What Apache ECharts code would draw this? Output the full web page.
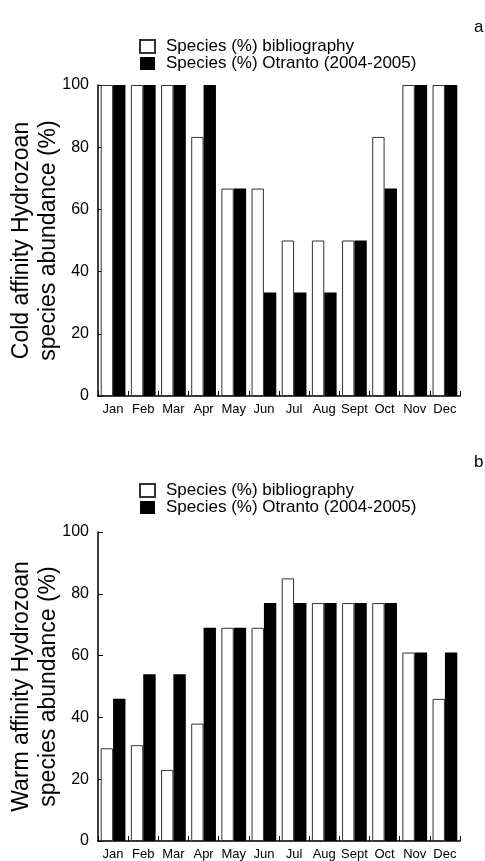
<!DOCTYPE html>
<html>
<head>
<meta charset="utf-8">
<script src="https://cdn.jsdelivr.net/npm/echarts@6/dist/echarts.min.js"></script>
<style>
html,body{margin:0;padding:0;background:#fff;}
#chart{width:485px;height:861px;}
</style>
</head>
<body>
<div id="chart"></div>
<script>
var months = ['Jan','Feb','Mar','Apr','May','Jun','Jul','Aug','Sept','Oct','Nov','Dec'];
var seriesNames = ['Species (%) bibliography', 'Species (%) Otranto (2004-2005)'];
var coldBiblio  = [100,100,100,83.3,66.7,66.7,50,50,50,83.3,100,100];
var coldOtranto = [100,100,100,100,66.7,33.3,33.3,33.3,50,66.7,100,100];
var warmBiblio  = [30,31,23,38,69,69,85,77,77,77,61,46];
var warmOtranto = [46,54,54,69,69,77,77,77,77,77,61,61];
var yTitles = ['Cold affinity Hydrozoan\nspecies abundance (%)', 'Warm affinity Hydrozoan\nspecies abundance (%)'];
var panelLabels = ['a', 'b'];

var FONT = '"Liberation Sans", Arial, sans-serif';
var chart = echarts.init(document.getElementById('chart'), null, {renderer: 'canvas'});

function xAxis(i) {
  return {
    type: 'category', gridIndex: i, data: months,
    axisLine: {show: true, lineStyle: {color: '#000', width: 1.5}},
    axisTick: {show: true, inside: true, length: 5, lineStyle: {color: '#000', width: 1}},
    axisLabel: {color: '#000', fontSize: 13, fontFamily: FONT, margin: 7, interval: 0},
    splitLine: {show: false}
  };
}
function yAxis(i) {
  return {
    type: 'value', gridIndex: i, min: 0, max: 100, interval: 20,
    name: yTitles[i], nameLocation: 'middle', nameRotate: 90, nameGap: 36,
    nameMoveOverlap: false,
    nameTextStyle: {color: '#000', fontSize: 23, fontFamily: FONT, lineHeight: 27},
    axisLine: {show: true, lineStyle: {color: '#000', width: 1.5}},
    axisTick: {show: true, inside: true, length: 5, lineStyle: {color: '#000', width: 1}},
    axisLabel: {color: '#000', fontSize: 16, fontFamily: FONT, margin: 9},
    splitLine: {show: false}
  };
}
function bar(name, data, i, white) {
  return {
    name: name, type: 'bar', xAxisIndex: i, yAxisIndex: i, data: data,
    barWidth: '41%', barGap: '0%',
    itemStyle: white ? {color: '#fff', borderColor: '#333', borderWidth: 1} : {color: '#000'},
    emphasis: {disabled: true}
  };
}
function legend(top) {
  return {
    orient: 'vertical', left: 134, top: top, data: seriesNames,
    icon: 'rect', itemWidth: 15, itemHeight: 13, itemGap: 0,
    textStyle: {color: '#000', fontSize: 17, fontFamily: FONT, lineHeight: 17, padding: [0,0,0,6]},
    selectedMode: false
  };
}

chart.setOption({
  backgroundColor: '#fff',
  animation: false,
  title: [
    {text: panelLabels[0], left: 474, top: 19, textStyle: {color: '#000', fontSize: 17, fontWeight: 'normal', fontFamily: FONT}, padding: 0},
    {text: panelLabels[1], left: 474, top: 454, textStyle: {color: '#000', fontSize: 17, fontWeight: 'normal', fontFamily: FONT}, padding: 0}
  ],
  legend: [legend(33), legend(477)],
  grid: [
    {left: 98, right: 25, top: 85, bottom: 465, containLabel: false, outerBoundsMode: 'none'},
    {left: 98, right: 25, top: 532, bottom: 20, containLabel: false, outerBoundsMode: 'none'}
  ],
  xAxis: [xAxis(0), xAxis(1)],
  yAxis: [yAxis(0), yAxis(1)],
  series: [
    bar(seriesNames[0], coldBiblio, 0, true),
    bar(seriesNames[1], coldOtranto, 0, false),
    bar(seriesNames[0], warmBiblio, 1, true),
    bar(seriesNames[1], warmOtranto, 1, false)
  ]
});
</script>
</body>
</html>
